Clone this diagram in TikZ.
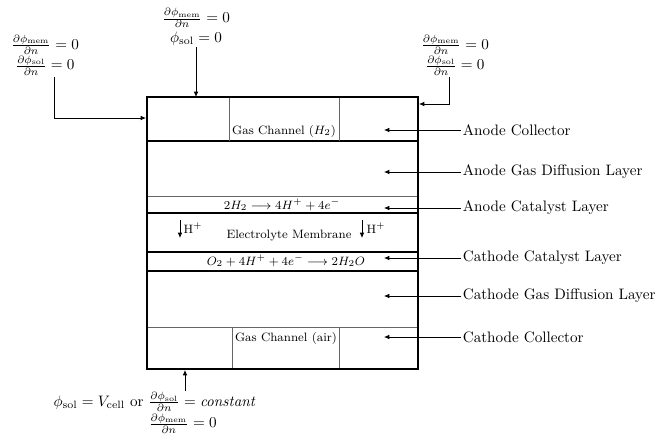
\documentclass[tikz,border=0pt]{standalone}
\usepackage{tikz}
\usetikzlibrary{arrows.meta,positioning}

\begin{document}
\begin{tikzpicture}[
    x=0.66pt, y=-0.66pt,
    cellbox/.style={draw=black, line width=1.3pt},
    sep/.style={draw=black, line width=1pt},
    thinsep/.style={draw=black!60, line width=0.6pt},
    lbl/.style={anchor=west, inner sep=1pt},
    bc/.style={align=center, inner sep=1pt},
    layertext/.style={font=\footnotesize, inner sep=1pt},
    arrow/.style={-{Latex[length=3.5pt,width=3pt]}, line width=0.5pt}
  ]
    \useasboundingbox (0,0) rectangle (666,439);
    % cell outline and layers
    \coordinate (cellNW) at (147,97);
    \coordinate (cellSE) at (418,369);
    \draw[sep] (147,141) -- (418,141);
    \draw[thinsep] (147,196) -- (418,196);
    \draw[sep] (147,213) -- (418,213);
    \draw[sep] (147,252) -- (418,252);
    \draw[sep] (147,271) -- (418,271);
    \draw[thinsep] (147,327) -- (418,327);
    \draw[thinsep] (229,97) -- (229,141) (339,97) -- (339,141);
    \draw[thinsep] (232,327) -- (232,369) (339,327) -- (339,369);
    \draw[cellbox] (cellNW) rectangle (cellSE);

    \node[layertext] (anodeCh) at (284,131) {Gas Channel ($H_2$)};
    \node[layertext] (anodeRx) at (282,205) {$2H_2 \longrightarrow 4H^+ + 4e^-$};
    \node[layertext] (membrane) at (289,236) {Electrolyte Membrane};
    \node[layertext] (cathodeRx) at (286,261) {$O_2 + 4H^+ + 4e^- \longrightarrow 2H_2O$};
    \node[layertext] (cathodeCh) at (286,338) {Gas Channel (air)};

    % proton flux
    \node[layertext] (hLeft) at (193,228) {H$^+$};
    \node[layertext] (hRight) at (376,228) {H$^+$};
    \coordinate (hLeftTop) at (180,220);
    \coordinate (hLeftBot) at (180,238);
    \coordinate (hRightTop) at (362,220);
    \coordinate (hRightBot) at (362,238);
    \draw[arrow] (hLeftTop) -- (hLeftBot);
    \draw[arrow] (hRightTop) -- (hRightBot);

    % layer names
    \foreach \y/\name/\txt in {130/acoll/Anode Collector, 172/agdl/Anode Gas Diffusion Layer,
        208/acl/Anode Catalyst Layer, 258/ccl/Cathode Catalyst Layer,
        296/cgdl/Cathode Gas Diffusion Layer, 337/ccoll/Cathode Collector} {
      \node[lbl] (\name) at (461,\y) {\txt};
      \coordinate (\name tip) at (384,\y);
      \draw[arrow] (\name.west) -- (\name tip);
    }

    % boundary conditions
    \node[bc] (topBC) at (196,27) {$\frac{\partial\phi_{\mathrm{mem}}}{\partial n}=0$\\[1pt]$\phi_{\mathrm{sol}}=0$};
    \coordinate (topTip) at (196,97);
    \draw[arrow] (topBC.south -| topTip) -- (topTip);

    \node[bc] (leftBC) at (45,55) {$\frac{\partial\phi_{\mathrm{mem}}}{\partial n}=0$\\[0pt]$\frac{\partial\phi_{\mathrm{sol}}}{\partial n}=0$};
    \coordinate (leftBend) at (54,118);
    \coordinate (leftTip) at (146,118);
    \draw[arrow] (leftBend |- leftBC.south) -- (leftBend) -- (leftTip);

    \node[bc] (rightBC) at (455,55) {$\frac{\partial\phi_{\mathrm{mem}}}{\partial n}=0$\\[0pt]$\frac{\partial\phi_{\mathrm{sol}}}{\partial n}=0$};
    \coordinate (rightBend) at (449,104);
    \coordinate (rightTip) at (419,104);
    \draw[arrow] (rightBend |- rightBC.south) -- (rightBend) -- (rightTip);

    \node[bc] (botBC) at (155,402) {$\phi_{\mathrm{sol}}=V_{\mathrm{cell}}$ or $\frac{\partial\phi_{\mathrm{sol}}}{\partial n}=\mathit{constant}$};
    \node[bc, anchor=north west] (botBCmem) at (147,412) {$\frac{\partial\phi_{\mathrm{mem}}}{\partial n}=0$};
    \coordinate (botTip) at (185,370);
    \draw[arrow] (botBC.north -| botTip) -- (botTip);
\end{tikzpicture}
\end{document}
